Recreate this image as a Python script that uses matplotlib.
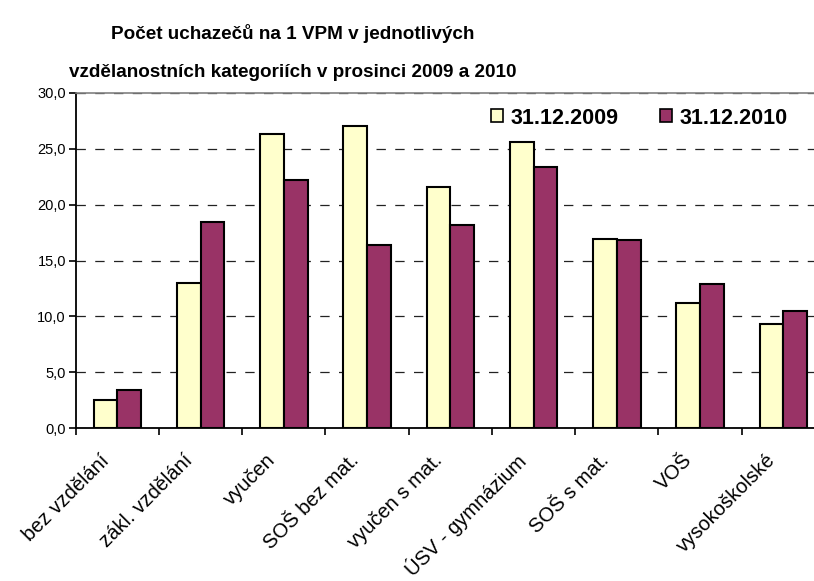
import numpy as np
import matplotlib.pyplot as plt
from matplotlib.ticker import FuncFormatter, MultipleLocator
from matplotlib.patches import Patch

plt.rcParams['font.family'] = ['Liberation Sans', 'DejaVu Sans']

categories = ["bez vzdělání", "zákl. vzdělání", "vyučen", "SOŠ bez mat.",
              "vyučen s mat.", "ÚSV - gymnázium", "SOŠ s mat.", "VOŠ",
              "vysokoškolské"]
values_2009 = [2.5, 13.0, 26.3, 27.0, 21.6, 25.6, 16.9, 11.2, 9.3]
values_2010 = [3.4, 18.4, 22.2, 16.4, 18.2, 23.4, 16.8, 12.9, 10.5]
series_labels = ["31.12.2009", "31.12.2010"]
title_lines = ["Počet uchazečů na 1 VPM v jednotlivých",
               "vzdělanostních kategoriích v prosinci 2009 a 2010"]

YELLOW = '#FFFFCC'
MAROON = '#993366'

W, H = 814, 581
fig = plt.figure(figsize=(W / 100, H / 100), dpi=100)
# plot area runs a little past the right edge of the picture, as in the original
ax = fig.add_axes([75.7 / W, 1 - 428.3 / H, (825 - 75.7) / W, (428.3 - 92.7) / H])

x = np.arange(len(categories))
w = 1 / 3.5
ax.bar(x - w / 2, values_2009, w, color=YELLOW, edgecolor='black', lw=1.5, zorder=3)
ax.bar(x + w / 2, values_2010, w, color=MAROON, edgecolor='black', lw=1.5, zorder=3)

ax.set_xlim(-0.5, len(categories) - 0.5)
ax.set_ylim(0, 30)
ax.yaxis.set_major_locator(MultipleLocator(5))
ax.yaxis.set_major_formatter(FuncFormatter(lambda v, p: f"{v:.1f}".replace('.', ',')))
ax.grid(axis='y', color='#222222', ls=(0, (7.5, 7.5)), lw=0.9, zorder=1)

ax.set_xticks(np.arange(len(categories) + 1) - 0.5)
ax.set_xticklabels([])
ax.tick_params(axis='x', direction='out', length=5, width=1.2)
ax.tick_params(axis='y', direction='out', length=5, width=1.2, labelsize=10.5, pad=2)
for i, lab in enumerate(categories):
    ax.annotate(lab, xy=(i, 0), xycoords=('data', 'axes fraction'),
                xytext=(-8, -21), textcoords='offset points',
                rotation=45, rotation_mode='anchor', ha='right', va='center',
                fontsize=14.5, annotation_clip=False)

for s in ['left', 'bottom']:
    ax.spines[s].set_linewidth(1.3)
ax.spines['top'].set_color('#808080')
ax.spines['top'].set_linewidth(1.2)
ax.spines['right'].set_color('#808080')

handles = [Patch(facecolor=YELLOW, edgecolor='black', lw=1.2),
           Patch(facecolor=MAROON, edgecolor='black', lw=1.2)]
fig.legend(handles, series_labels, loc='center left',
           bbox_to_anchor=(491 / W, 1 - 118 / H), bbox_transform=fig.transFigure,
           ncol=2, frameon=False, prop={'weight': 'bold', 'size': 15.5},
           borderpad=0, borderaxespad=0,
           handlelength=0.56, handleheight=0.56, handletextpad=0.37, columnspacing=1.9)

fig.text(293 / W, 1 - 39 / H, title_lines[0], ha='center', va='baseline',
         fontsize=13.6, fontweight='bold')
fig.text(293 / W, 1 - 77 / H, title_lines[1], ha='center', va='baseline',
         fontsize=13.6, fontweight='bold')

fig.savefig("out.png", dpi=100)
